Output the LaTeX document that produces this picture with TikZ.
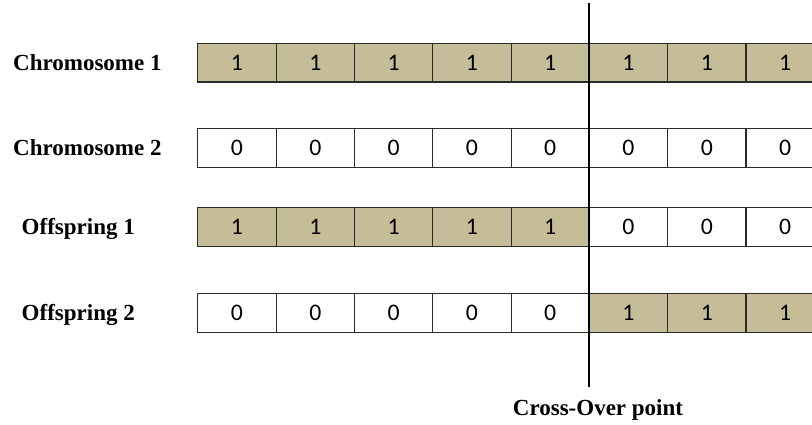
\documentclass[tikz,border=0pt]{standalone}
\usepackage{fontspec}
\usepackage{graphicx}
\setmainfont{Liberation Serif}
\newfontfamily\cellfont{Carlito}
\definecolor{tanfill}{HTML}{C4BD97}
\definecolor{cellline}{HTML}{2B2B2B}
\tikzset{
  bitcell/.style={draw=cellline, line width=1.1pt, minimum width=78.3pt,
    minimum height=38.5pt, inner sep=0pt, anchor=north west},
  oncell/.style={bitcell, fill=tanfill},
  offcell/.style={bitcell, fill=white},
  rowlabel/.style={anchor=base west, inner sep=0pt,
    font=\fontsize{23}{27}\selectfont\bfseries},
  cutline/.style={line width=2pt, black}
}
\newcommand{\bitdigit}[1]{\scalebox{1.25}{\cellfont\fontsize{19}{22}\selectfont #1}}
\begin{document}
\begin{tikzpicture}[x=1pt, y=-1pt]
  \clip (0,0) rectangle (812,425);
  \fill[white] (0,0) rectangle (812,425);

  % row labels
  \node[rowlabel] (l1) at (13,71)      {Chromosome 1};
  \node[rowlabel] (l2) at (13,155.7)   {Chromosome 2};
  \node[rowlabel] (l3) at (21.5,234.3) {Offspring 1};
  \node[rowlabel] (l4) at (21.5,320)   {Offspring 2};

  % gene strings: row index / top edge / bit pattern
  \foreach \r/\top/\bits in {1/43/{1,1,1,1,1,1,1,1},
                             2/128.3/{0,0,0,0,0,0,0,0},
                             3/207/{1,1,1,1,1,0,0,0},
                             4/293.3/{0,0,0,0,0,1,1,1}} {
    \foreach \b [count=\i from 0] in \bits {
      \ifnum\b=1
        \node[oncell]  (c\r-\i) at ({197.3+78.3*\i},\top) {\bitdigit{\b}};
      \else
        \node[offcell] (c\r-\i) at ({197.3+78.3*\i},\top) {\bitdigit{\b}};
      \fi
    }
  }

  % cross-over point
  \coordinate (cuttop) at (588.6,3);
  \coordinate (cutbot) at (588.6,387);
  \draw[cutline] (cuttop) -- (cutbot);
  \node[inner sep=0pt, anchor=base, font=\fontsize{23}{27}\selectfont\bfseries]
    (cop) at (598,415) {Cross-Over point};
\end{tikzpicture}
\end{document}
